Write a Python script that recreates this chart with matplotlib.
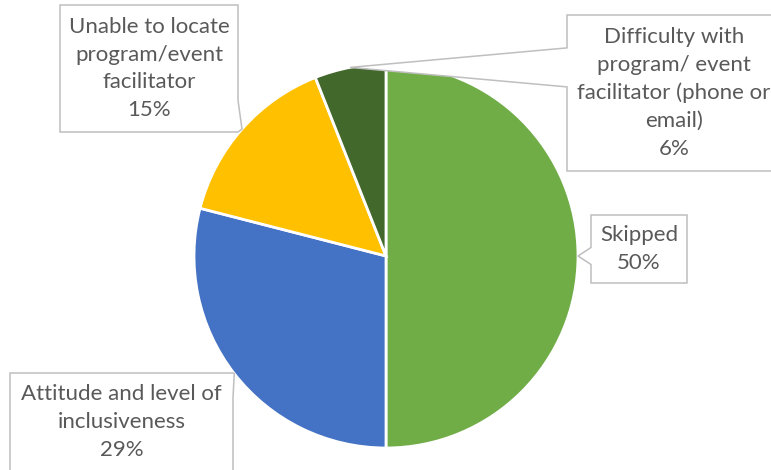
import numpy as np
import matplotlib
matplotlib.use("Agg")
import matplotlib.pyplot as plt
from matplotlib.patches import Polygon

# Survey responses: barriers encountered
categories = [
    "Skipped",
    "Attitude and level of\ninclusiveness",
    "Unable to locate\nprogram/event\nfacilitator",
    "Difficulty with\nprogram/ event\nfacilitator (phone or\nemail)",
]
shares = [50, 29, 15, 6]
colors = ["#70AD47", "#4472C4", "#FFC000", "#43682B"]

W, H = 771, 470
fig = plt.figure(figsize=(W / 100, H / 100), dpi=100)
ax = fig.add_axes([0, 0, 1, 1])


def py(y):
    """Convert a top-down pixel row to axis y."""
    return H - y


cx, cy, r = 386, py(256), 192
wedges, _ = ax.pie(
    shares,
    colors=colors,
    startangle=90,
    counterclock=False,
    center=(cx, cy),
    radius=r,
    wedgeprops=dict(edgecolor="white", linewidth=2.0),
)
ax.set_xlim(0, W)
ax.set_ylim(0, H)
ax.set_aspect("equal")
ax.axis("off")

# Callout boxes: (left, top, right, bottom) in pixel rows from the top
boxes = [
    (591, 215, 687, 283),
    (10, 373, 233, 471),
    (60, 5, 238, 132),
    (567, 15, 781, 171),
]

text_color = "#595959"
edge_color = "#BFBFBF"


def callout(rect, tip):
    l, t, rr, b = rect
    top, bot = py(t), py(b)
    tx, ty = tip
    # pick the side facing the tip
    dxl, dxr = l - tx, tx - rr
    dyt, dyb = ty - top, bot - ty
    side = int(np.argmax([dxl, dxr, dyt, dyb]))
    if side in (0, 1):
        half = 0.125 * (top - bot)
        c = np.clip(ty, bot + half, top - half)
        x = l if side == 0 else rr
        if side == 0:
            poly = [(l, top), (rr, top), (rr, bot), (l, bot),
                    (x, c - half), (tx, ty), (x, c + half)]
        else:
            poly = [(l, top), (rr, top), (x, c + half), (tx, ty),
                    (x, c - half), (rr, bot), (l, bot)]
    else:
        half = 0.125 * (rr - l)
        c = np.clip(tx, l + half, rr - half)
        if side == 2:
            poly = [(l, top), (c - half, top), (tx, ty), (c + half, top),
                    (rr, top), (rr, bot), (l, bot)]
        else:
            poly = [(l, top), (rr, top), (rr, bot), (c + half, bot), (tx, ty),
                    (c - half, bot), (l, bot)]
    ax.add_patch(Polygon(poly, closed=True, facecolor="white", edgecolor=edge_color,
                         linewidth=1.1, zorder=5, clip_on=False))


total = sum(shares)
start = 90.0
for cat, val, rect in zip(categories, shares, boxes):
    sweep = 360.0 * val / total
    mid = np.deg2rad(start - sweep / 2)
    start -= sweep
    tip = (cx + r * np.cos(mid), cy + r * np.sin(mid))
    callout(rect, tip)
    l, t, rr, b = rect
    ax.text((l + rr) / 2, py((t + b) / 2), f"{cat}\n{val}%", ha="center", va="center",
            fontsize=16, family="Lato", color=text_color, linespacing=1.48, zorder=6)

fig.savefig("out.png", dpi=100)
